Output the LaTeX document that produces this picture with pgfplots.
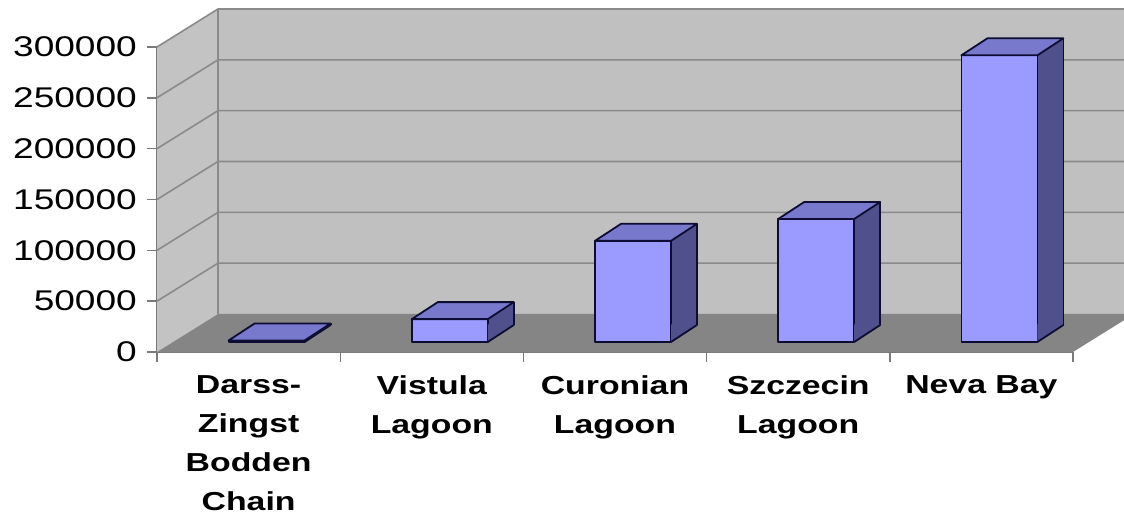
\documentclass[border=0pt]{standalone}
\usepackage{pgfplots}
\pgfplotsset{compat=1.18}
\usepackage{pgfplotstable}
\usepackage{fontspec}
\setmainfont{Liberation Sans}[FakeStretch=1.3]

\definecolor{wallgray}{HTML}{C0C0C0}
\definecolor{floorgray}{HTML}{858585}
\definecolor{gridgray}{HTML}{8A8A8A}
\definecolor{axisgray}{HTML}{7A7A7A}
\definecolor{barfront}{HTML}{9B9BFF}
\definecolor{bartop}{HTML}{7878CC}
\definecolor{barside}{HTML}{50508C}
\definecolor{barline}{HTML}{0D0D33}

\pgfplotstableread{
pos  volume
0.5  1500
1.5  22500
2.5  99500
3.5  121000
4.5  282000
}\lagoons

% top face of a column: front edge 76pt wide, receding by (26pt,17pt)
\pgfdeclareplotmark{columntop}{%
  \pgfpathmoveto{\pgfpoint{-38pt}{0pt}}%
  \pgfpathlineto{\pgfpoint{38pt}{0pt}}%
  \pgfpathlineto{\pgfpoint{64pt}{17pt}}%
  \pgfpathlineto{\pgfpoint{-12pt}{17pt}}%
  \pgfpathclose
  \pgfusepathqfillstroke}
% lower corner of the side face, down to the floor
\pgfdeclareplotmark{columnfoot}{%
  \pgfpathmoveto{\pgfpoint{38pt}{0pt}}%
  \pgfpathlineto{\pgfpoint{64pt}{17pt}}%
  \pgfpathlineto{\pgfpoint{64pt}{17.6pt}}%
  \pgfpathlineto{\pgfpoint{38pt}{17.6pt}}%
  \pgfpathclose
  \pgfusepathqfill
  \pgfpathmoveto{\pgfpoint{38pt}{0pt}}%
  \pgfpathlineto{\pgfpoint{64pt}{17pt}}%
  \pgfusepathqstroke}

\begin{document}
\begin{tikzpicture}
\begin{axis}[
  at={(157pt,166pt)}, anchor=south west,
  scale only axis, width=916pt, height=305pt,
  xmin=0, xmax=5, ymin=0, ymax=300000,
  clip=false,
  axis lines*=left,
  axis line style={axisgray, line width=1.6pt},
  tick style={axisgray, line width=1.4pt},
  tick align=outside, major tick length=10pt,
  xtick={0,1,2,3,4,5},
  x tick label as interval,
  xticklabels={{Darss-\\Zingst\\Bodden\\Chain},{Vistula\\Lagoon},{Curonian\\Lagoon},{Szczecin\\Lagoon},{Neva Bay}},
  xticklabel style={align=center, anchor=north, inner sep=0pt, yshift=-13pt,
    font=\bfseries\fontsize{26}{39}\selectfont},
  scaled y ticks=false,
  ytick={0,50000,100000,150000,200000,250000,300000},
  yticklabels={0,50000,100000,150000,200000,250000,300000},
  yticklabel style={anchor=east, inner sep=0pt, xshift=-10pt,
    font=\fontsize{28.5}{30}\selectfont},
]
% back wall, side wall and floor
\fill[wallgray] ([shift={(61pt,38pt)}]axis cs:0,0) rectangle ([shift={(61pt,38pt)}]axis cs:5,300000);
\fill[wallgray!95!white] (axis cs:0,0) -- (axis cs:0,300000)
  -- ([shift={(61pt,38pt)}]axis cs:0,300000) -- ([shift={(61pt,38pt)}]axis cs:0,0) -- cycle;
\fill[floorgray] (axis cs:0,0) -- (axis cs:5,0)
  -- ([shift={(61pt,38pt)}]axis cs:5,0) -- ([shift={(61pt,38pt)}]axis cs:0,0) -- cycle;
\pgfplotsinvokeforeach{50000,100000,150000,200000,250000,300000}{
  \draw[gridgray, line width=1.6pt] (axis cs:0,#1) -- ([shift={(61pt,38pt)}]axis cs:0,#1)
    -- ([shift={(61pt,38pt)}]axis cs:5,#1);
}
\draw[gridgray, line width=1.6pt] ([shift={(61pt,38pt)}]axis cs:0,0) -- ([shift={(61pt,38pt)}]axis cs:0,300000);

% side faces of the columns
\addplot[ybar, bar width=26pt, bar shift=69pt, yshift=27pt, fill=barside, draw=none, mark=none]
  table[x=pos, y=volume] {\lagoons};
\addplot[only marks, mark=columnfoot, xshift=18pt, yshift=10pt,
  mark options={fill=barside, draw=barline, line width=1.8pt, line cap=round}]
  table[x=pos, y expr=0] {\lagoons};
\addplot[ybar, bar width=0pt, bar shift=82pt, yshift=27pt, fill=none, draw=barline, line width=1.8pt, mark=none]
  table[x=pos, y=volume] {\lagoons};
% front faces
\addplot[ybar, bar width=76pt, bar shift=18pt, yshift=10pt, fill=barfront, draw=barline,
  line width=1.8pt, line join=round, mark=none]
  table[x=pos, y=volume] {\lagoons};
% top faces
\addplot[only marks, mark=columntop, xshift=18pt, yshift=10pt,
  mark options={fill=bartop, draw=barline, line width=1.8pt, line join=round}]
  table[x=pos, y=volume] {\lagoons};
\end{axis}
\pgfresetboundingbox
\useasboundingbox (0,0) rectangle (1124pt,518pt);
\end{tikzpicture}
\end{document}
